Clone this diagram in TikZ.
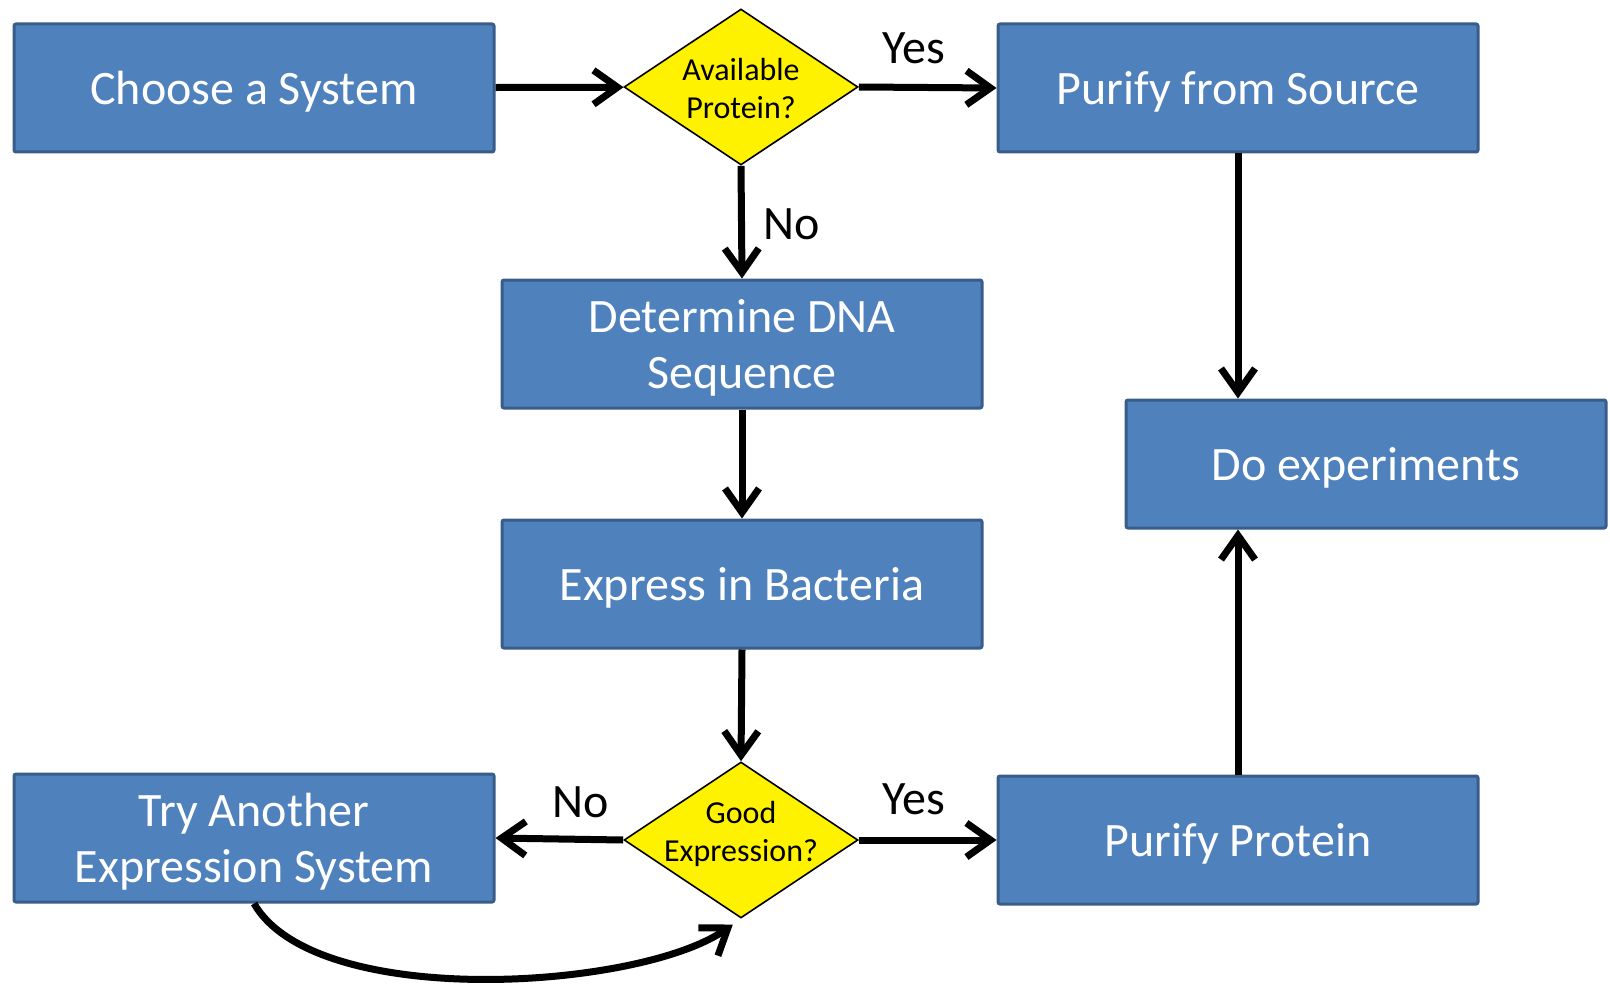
\documentclass[tikz,border=0pt]{standalone}
\usepackage{fontspec}
\setmainfont{Carlito}
\usetikzlibrary{shapes.geometric,arrows.meta}
\definecolor{boxblue}{HTML}{4F81BD}
\definecolor{boxedge}{HTML}{385D8A}
\begin{document}
\begin{tikzpicture}[x=0.5pt, y=-0.5pt,
    box/.style={draw=boxedge, line width=1.5pt, fill=boxblue, text=white, rounded corners=1pt,
      minimum width=240pt, minimum height=64pt, text depth=0pt, align=center,
      font=\fontsize{24}{28}\selectfont},
    ask/.style={diamond, draw=black, line width=0.8pt, fill=yellow, inner sep=0pt,
      minimum width=117pt, minimum height=78pt},
    asktext/.style={inner sep=0pt, align=center, font=\fontsize{16}{19}\selectfont},
    lbl/.style={inner sep=0pt, font=\fontsize{24}{28}\selectfont},
    arr/.style={line width=3.5pt, -{Straight Barb[length=12pt, width=17pt]}}]
            \useasboundingbox (0,0) rectangle (1610,984);
            % boxes and questions
            \node[box] (1) at (254,88) {Choose a System};
            \node[ask, label={[asktext, yshift=-1pt]center:Available\\Protein?}] (2) at (741,87) {};
            \node[box] (3) at (1238,88) {Purify from Source};
            \node[box] (4) at (742,344) {Determine DNA\\Sequence};
            \node[box] (5) at (742,584) {Express in Bacteria};
            \node[ask, label={[asktext, yshift=3pt]center:Good\\Expression?}] (6) at (741,840) {};
            \node[box] (7) at (254,838) {Try Another\\Expression System};
            \node[box] (8) at (1238,840) {Purify Protein};
            \node[box] (9) at (1366,464) {Do experiments};
            % connectors
            \draw[arr] (1) -- (2);
            \draw[arr] (2.east) -- node[lbl, pos=0.4, above=10pt] (yes1) {Yes} (3.west);
            \draw[arr] (2.south) -- node[lbl, pos=0.52, right=9pt] (no1) {No} (4.north);
            \draw[arr] (4) -- (5);
            \draw[arr] (5.south) -- (6.north);
            \draw[arr] (6.west) -- node[lbl, pos=0.33, above=9pt] (no2) {No} (7.east);
            \draw[arr] (6.east) -- node[lbl, pos=0.4, above=11pt] (yes2) {Yes} (8.west);
            \draw[arr] (3.south) -- (3.south |- 9.north);
            \draw[arr] (8.north) -- (8.north |- 9.south);
            % \draw[arr] (7.south) .. controls (320,1005) and (600,995) .. (6.south);
            \draw[arr, shorten >=5pt] (7.south) to[out=-60, in=215, looseness=0.65] (6.south);
        \end{tikzpicture}
\end{document}
